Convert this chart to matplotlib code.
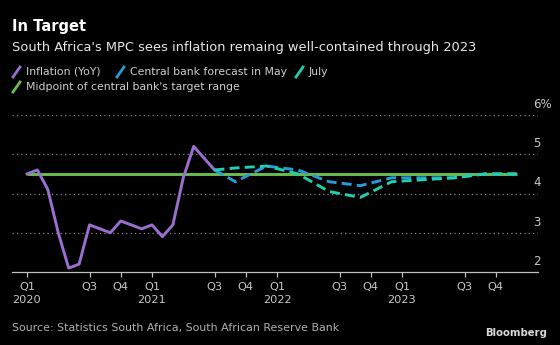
import numpy as np
import matplotlib
matplotlib.use("Agg")
import matplotlib.pyplot as plt
from matplotlib.lines import Line2D
from matplotlib.transforms import blended_transform_factory, offset_copy

# months counted from Jan 2020 (0 = Jan 2020)
infl_months = list(range(0, 19))
infl_vals = [4.5, 4.6, 4.1, 3.0, 2.1, 2.2, 3.2, 3.1, 3.0, 3.3, 3.2, 3.1,
             3.2, 2.9, 3.2, 4.4, 5.2, 4.9, 4.6]

fc_months = [18, 20, 23, 26, 29, 32, 35, 38, 41, 44, 47]
may_vals = [4.6, 4.3, 4.7, 4.6, 4.3, 4.2, 4.4, 4.4, 4.4, 4.5, 4.5]
july_vals = [4.6, 4.65, 4.7, 4.5, 4.05, 3.9, 4.3, 4.35, 4.4, 4.5, 4.5]

target_months = [0, 47]
target_vals = [4.5, 4.5]

tick_months = [0, 6, 9, 12, 18, 21, 24, 30, 33, 36, 42, 45]
tick_labels = ["Q1\n2020", "Q3", "Q4", "Q1\n2021", "Q3", "Q4", "Q1\n2022",
               "Q3", "Q4", "Q1\n2023", "Q3", "Q4"]
y_ticks = [2, 3, 4, 5, 6]
y_labels = ["2", "3", "4", "5", "6%"]

PURPLE = "#9b6fd0"
BLUE = "#2a9ad8"
TEAL = "#1fd0ae"
GREEN = "#68bf4f"

W, H = 560, 345
fig = plt.figure(figsize=(W / 100, H / 100), dpi=100, facecolor="black")


def fx(x):
    return x / W


def fy(y):
    return 1 - y / H


ax = fig.add_axes([fx(12), fy(272), fx(538) - fx(12), fy(115) - fy(272)])
ax.set_facecolor("black")

ax.plot(target_months, target_vals, color=GREEN, lw=2.1, zorder=2,
        solid_capstyle="butt")
ax.plot(infl_months, infl_vals, color=PURPLE, lw=2.1, zorder=3)
ax.plot(fc_months, may_vals, color=BLUE, lw=2.1, ls=(0, (3.4, 1.8)), zorder=4)
ax.plot(fc_months, july_vals, color=TEAL, lw=2.1, ls=(0, (3.4, 1.8)), zorder=5)

ax.set_xlim(-1.44, 49.05)
ax.set_ylim(2, 6)

for v in [3, 4, 5, 6]:
    ax.axhline(v, color="#8a8a8a", lw=0.9, ls=(0, (1, 2.5)), zorder=1)

ax.set_xticks(tick_months)
ax.set_xticklabels(tick_labels, linespacing=1.45)
ax.tick_params(axis="x", colors="#bdbdbd", labelsize=8.2, length=3.6,
               width=0.9, pad=3.5)
for lab in ax.get_xticklabels():
    lab.set_color("#c8c8c8")
ax.set_yticks([])

for s in ["top", "left", "right"]:
    ax.spines[s].set_visible(False)
ax.spines["bottom"].set_color("#bdbdbd")
ax.spines["bottom"].set_linewidth(0.9)

trans = blended_transform_factory(ax.transAxes, ax.transData)
trans = offset_copy(trans, fig=fig, x=0, y=4, units="dots")
for v, lab in zip(y_ticks, y_labels):
    ax.text((533 - 12) / (538 - 12), v, lab, transform=trans, ha="left",
            va="bottom", color="#c8c8c8", fontsize=8.5)

fig.text(fx(12), fy(27), "In Target", color="white", fontsize=10.5,
         fontweight="bold", va="center", ha="left")
fig.text(fx(12), fy(47), "South Africa's MPC sees inflation remaing well-contained through 2023",
         color="#e6e6e6", fontsize=9.4, va="center", ha="left")

legend_items = [
    (13, 72, PURPLE, "Inflation (YoY)"),
    (117, 72, BLUE, "Central bank forecast in May"),
    (296, 72, TEAL, "July"),
    (13, 87, GREEN, "Midpoint of central bank's target range"),
]
for x0, yc, col, txt in legend_items:
    fig.add_artist(Line2D([fx(x0), fx(x0 + 7)], [fy(yc + 5), fy(yc - 5)],
                          color=col, lw=2, transform=fig.transFigure))
    fig.text(fx(x0 + 13), fy(yc), txt, color="#cfcfcf", fontsize=7.8,
             va="center", ha="left")

fig.text(fx(12), fy(328), "Source: Statistics South Africa, South African Reserve Bank",
         color="#b0b0b0", fontsize=7.9, va="center", ha="left")
fig.text(fx(547), fy(333), "Bloomberg", color="#d8d8d8", fontsize=7.3,
         fontweight="bold", va="center", ha="right")

fig.savefig("out.png", dpi=100, facecolor="black")
